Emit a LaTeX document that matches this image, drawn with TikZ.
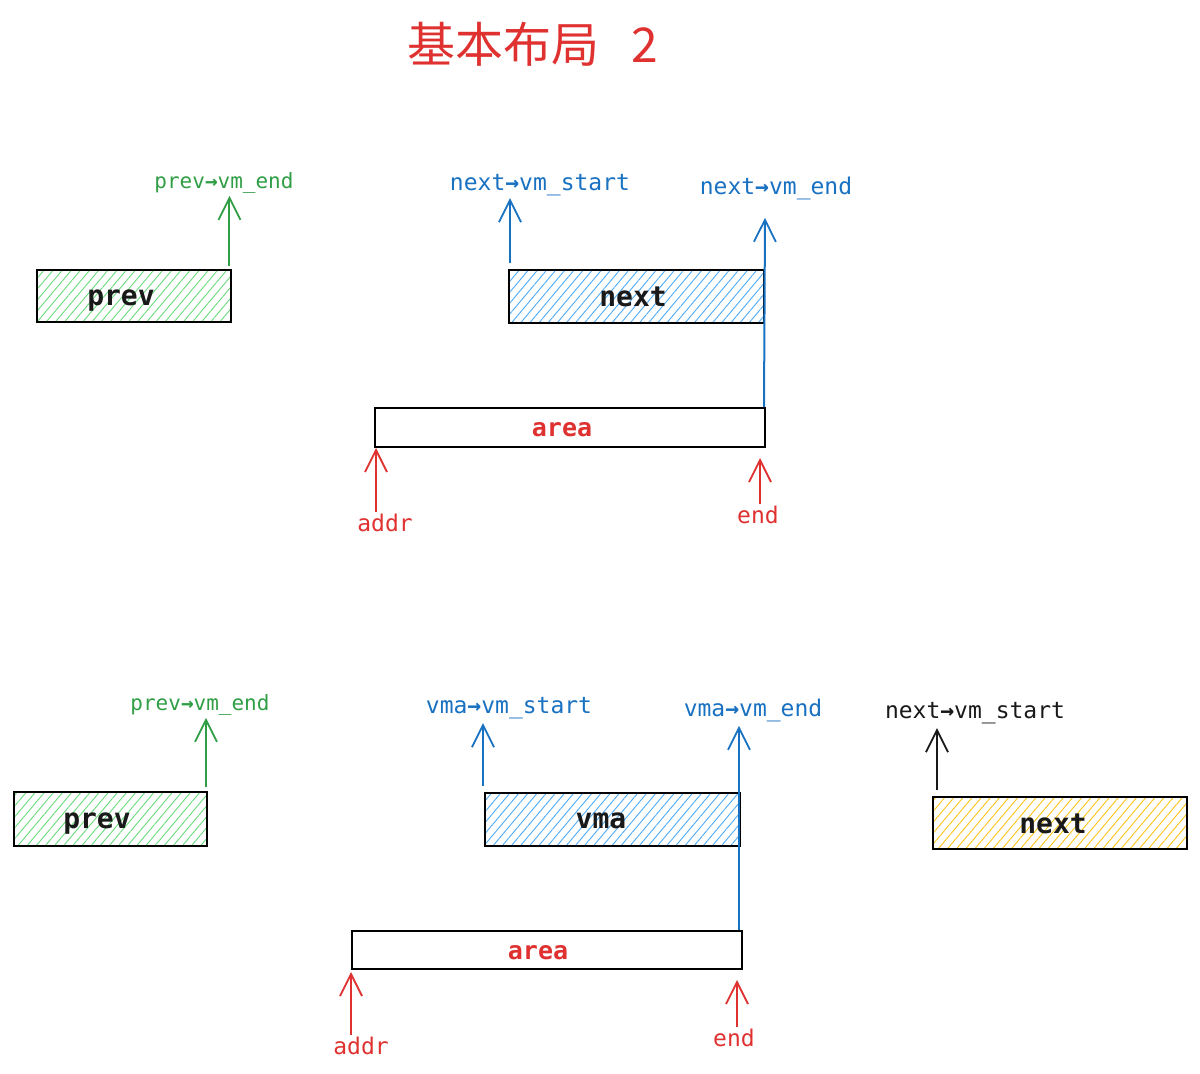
\documentclass[tikz,border=0pt]{standalone}
\usepackage{fontspec}
\setmonofont{DejaVu Sans Mono}
\newfontfamily\cjk{Noto Sans CJK SC}
\usetikzlibrary{arrows.meta,patterns.meta}
\definecolor{cred}{HTML}{E03131}
\definecolor{cgreen}{HTML}{2F9E44}
\definecolor{cblue}{HTML}{1971C2}
\definecolor{hgreen}{HTML}{69DB7C}
\definecolor{hblue}{HTML}{4DABF7}
\definecolor{hyellow}{HTML}{FCC419}
\newcommand{\myar}{{\bfseries →}}
\tikzset{
  px/.style={x=0.5pt,y=-0.5pt},
  box/.style={draw=black, line width=1pt, inner sep=0pt},
  hgbox/.style={box, pattern={Lines[angle=50,distance=3.5pt,line width=0.45pt]}, pattern color=hgreen},
  hbbox/.style={box, pattern={Lines[angle=50,distance=3.5pt,line width=0.45pt]}, pattern color=hblue},
  hybox/.style={box, pattern={Lines[angle=50,distance=3.5pt,line width=0.45pt]}, pattern color=hyellow},
  abox/.style={box, fill=white},
  boxtxt/.style={font=\ttfamily\bfseries\fontsize{14pt}{16pt}\selectfont, text=black!90, inner sep=0pt},
  areatxt/.style={font=\ttfamily\bfseries\fontsize{12.5pt}{14pt}\selectfont, text=cred, inner sep=0pt},
  lbl/.style={font=\ttfamily\fontsize{11.5pt}{13pt}\selectfont, inner sep=1pt},
  glbl/.style={font=\ttfamily\fontsize{10.5pt}{12pt}\selectfont, inner sep=1pt, text=cgreen},
  arr/.style={line width=1pt, -{Straight Barb[length=11pt,width=11pt,line width=0.9pt]}},
}
\begin{document}
\begin{tikzpicture}[px]
\useasboundingbox (0,0) rectangle (1200,1074);
% title
\node[font=\cjk\fontsize{24pt}{28pt}\selectfont, text=cred] (title) at (533,44) {基本布局\hspace{0.67em}2};

% ===== top section =====
\node[hgbox, minimum width=97pt, minimum height=26pt] (p1) at (134,296) {};
\node[boxtxt] (p1t) at (121,301) {prev};
\node[hbbox, minimum width=127.5pt, minimum height=26.5pt] (n1) at (636.5,296.5) {};
\node[boxtxt] (n1t) at (633,297) {next};
\node[abox, minimum width=195pt, minimum height=19.5pt] (a1) at (570,427.5) {};
\node[areatxt] (a1t) at (562,430) {area};

\node[glbl] (l1) at (224,183) {prev\myar vm\_end};
\node[lbl, text=cblue] (l2) at (540,185) {next\myar vm\_start};
\node[lbl, text=cblue] (l3) at (776,188) {next\myar vm\_end};
\node[lbl, text=cred] (l4) at (385,523) {addr};
\node[lbl, text=cred] (l5) at (758,515) {end};

\draw[arr, cgreen] ([xshift=-1pt,yshift=2pt]p1.north east) -- ([xshift=-1pt]p1.north east |- l1.south);
\draw[arr, cblue] ([xshift=1pt,yshift=3pt]n1.north west) -- ([xshift=1pt]n1.north west |- l2.south);
\draw[arr, cblue] ([xshift=-1pt]a1.north east) -- ([xshift=-0.5pt,yshift=-8pt]a1.north east |- l3.south);
\draw[arr, cred] ([xshift=1pt]a1.south west |- l4.north) -- ([xshift=1pt]a1.south west);
\draw[arr, cred] ([xshift=-3pt]a1.south east |- l5.north) -- ([xshift=-3pt,yshift=-5pt]a1.south east);

% ===== bottom section =====
\node[hgbox, minimum width=96.5pt, minimum height=27pt] (p2) at (110.5,819) {};
\node[boxtxt] (p2t) at (97,824) {prev};
\node[hbbox, minimum width=127.5pt, minimum height=26.5pt] (v2) at (612.5,819.5) {};
\node[boxtxt] (v2t) at (601,821) {vma};
\node[hybox, minimum width=127pt, minimum height=26pt] (n2) at (1060,823) {};
\node[boxtxt] (n2t) at (1053,824) {next};
\node[abox, minimum width=195pt, minimum height=19pt] (a2) at (547,950) {};
\node[areatxt] (a2t) at (538,953) {area};

\node[glbl] (m1) at (200,705) {prev\myar vm\_end};
\node[lbl, text=cblue] (m2) at (509,708) {vma\myar vm\_start};
\node[lbl, text=cblue] (m3) at (753,710) {vma\myar vm\_end};
\node[lbl, text=black!90] (m4) at (975,713) {next\myar vm\_start};
\node[lbl, text=cred] (m5) at (361,1046) {addr};
\node[lbl, text=cred] (m6) at (734,1038) {end};

\draw[arr, cgreen] ([xshift=-1pt,yshift=2pt]p2.north east) -- ([xshift=-1pt]p2.north east |- m1.south);
\draw[arr, cblue] ([xshift=-0.5pt,yshift=3pt]v2.north west) -- ([xshift=-0.5pt,yshift=-1pt]v2.north west |- m2.south);
\draw[arr, cblue] ([xshift=-2pt]a2.north east) -- ([xshift=-2pt,yshift=-1pt]a2.north east |- m3.south);
\draw[arr, black!90] ([xshift=2.5pt,yshift=3pt]n2.north west) -- ([xshift=2.5pt,yshift=-1pt]n2.north west |- m4.south);
\draw[arr, cred] (a2.south west |- m5.north) -- ([yshift=-1pt]a2.south west);
\draw[arr, cred] ([xshift=-3pt]a2.south east |- m6.north) -- ([xshift=-3pt,yshift=-5pt]a2.south east);
\end{tikzpicture}
\end{document}
